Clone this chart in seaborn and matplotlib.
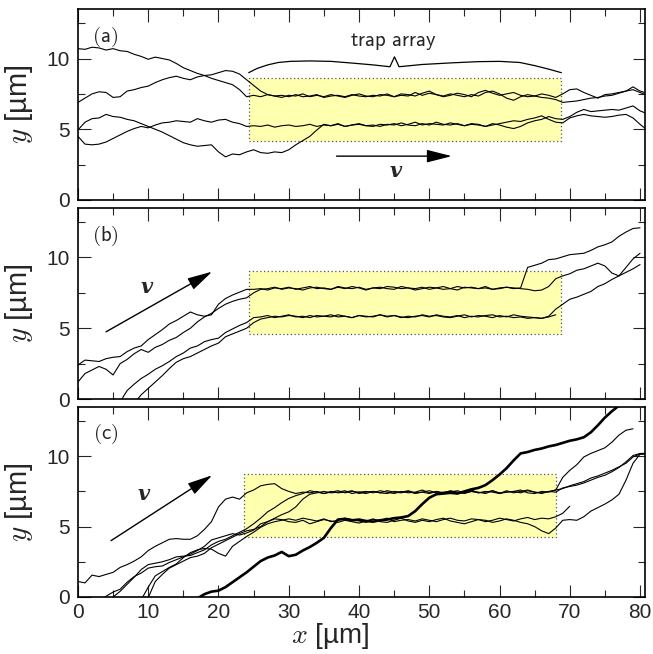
import numpy as np
import pandas as pd
import matplotlib
matplotlib.use("Agg")
import matplotlib.pyplot as plt
import seaborn as sns
from matplotlib.patches import Rectangle
from matplotlib.ticker import MultipleLocator

# ---- trajectories, y [um] sampled every 1 um in x, starting at x0 ----
# panel (a)
a1_x0 = 0
a1_y = [10.7, 10.65, 10.8, 10.75, 10.6, 10.7, 10.55, 10.5, 10.3, 10.15, 9.95, 10.1, 10.0,
        9.9, 9.65, 9.35, 9.15, 8.95, 8.8, 8.6, 8.45, 8.3, 8.15, 7.8, 7.3, 7.4,
        7.3, 7.45, 7.35, 7.25, 7.4, 7.35, 7.5, 7.3, 7.4, 7.3, 7.45, 7.35, 7.25, 7.4, 7.5,
        7.35, 7.3, 7.45, 7.4, 7.3, 7.5, 7.45, 7.35, 7.55, 7.7, 7.45, 7.35, 7.5, 7.4, 7.3,
        7.45, 7.35, 7.6, 7.7, 7.5, 7.2, 7.05, 7.3, 7.45, 7.35, 7.5, 7.4, 7.25,
        7.5, 7.8, 7.85, 7.6, 7.4, 7.2, 7.45, 7.5, 7.6, 7.7, 8.0, 7.7, 7.55]
a2_x0 = 0
a2_y = [6.9, 7.2, 7.5, 7.65, 7.6, 7.25, 7.3, 7.7, 7.8, 7.95, 8.05, 8.3, 8.5, 8.65, 8.75,
        8.6, 8.5, 8.7, 8.8, 8.85, 9.0, 9.15, 9.1, 8.9, 8.5, 8.1, 7.7, 7.45,
        7.35, 7.4, 7.3, 7.45, 7.3, 7.35, 7.45, 7.25, 7.35, 7.4, 7.3, 7.45, 7.35, 7.3, 7.4,
        7.35, 7.5, 7.3, 7.4, 7.35, 7.6, 7.4, 7.55, 7.45, 7.3, 7.4, 7.55, 7.45, 7.3, 7.6,
        7.75, 7.55, 7.4, 7.5, 7.6, 7.4, 7.3, 7.35, 7.25, 7.2, 7.1,
        6.9, 6.95, 7.0, 7.1, 7.2, 7.25, 7.35, 7.4, 7.55, 7.7, 7.8, 7.6, 7.4]
a3_x0 = 0
a3_y = [4.95, 5.5, 5.75, 5.8, 6.05, 5.9, 5.85, 5.7, 5.6, 5.4, 5.2, 5.0, 4.8, 4.55, 4.3,
        4.05, 3.9, 3.8, 3.85, 3.9, 3.4, 3.05, 3.25, 3.2, 3.4, 3.55, 3.35, 3.3, 3.4, 3.35,
        3.55, 3.9, 4.2, 4.5, 4.95, 5.35,
        5.25, 5.35, 5.2, 5.3, 5.4, 5.25, 5.3, 5.2, 5.35, 5.3, 5.45, 5.3, 5.25, 5.4, 5.3,
        5.5, 5.35, 5.3, 5.4, 5.25, 5.35, 5.3, 5.2, 5.4, 5.3, 5.15, 5.05, 5.2, 5.45, 5.6,
        5.7, 5.9, 5.75,
        5.7, 5.9, 6.2, 6.4, 6.25, 6.3, 6.35, 6.4, 6.35, 6.5, 6.65, 6.3, 6.1]
a4_x0 = 0
a4_y = [4.5, 3.95, 3.9, 3.95, 4.1, 4.35, 4.6, 4.85, 5.05, 5.2, 5.1, 5.3, 5.45, 5.5, 5.6,
        5.55, 5.5, 5.75, 5.6, 5.5, 5.65, 5.7, 5.5, 5.4, 5.2,
        5.25, 5.2, 5.3, 5.15, 5.25, 5.3, 5.2, 5.25, 5.35, 5.2, 5.3, 5.25, 5.4, 5.2, 5.3,
        5.35, 5.25, 5.2, 5.35, 5.3, 5.4, 5.25, 5.35, 5.5, 5.3, 5.4, 5.35, 5.3, 5.45, 5.35,
        5.25, 5.4, 5.35, 5.2, 5.3, 5.4, 5.5, 5.6, 5.55, 5.7, 5.8, 5.95, 5.7, 5.5,
        5.45, 5.8, 5.95, 6.05, 5.95, 5.9, 5.85, 5.9, 6.0, 6.05, 5.8, 5.35, 4.95]

# panel (b)
b1_x0 = 0
b1_y = [2.4, 2.75, 2.7, 2.65, 2.85, 2.95, 3.0, 3.35, 3.6, 3.75, 4.2, 4.55, 4.9, 5.3, 5.55,
        5.85, 6.15, 5.95, 5.85, 5.95, 6.7, 7.1, 7.35, 7.55, 7.75,
        7.75, 7.8, 7.7, 7.85, 7.8, 7.9, 7.75, 7.85, 7.95, 7.8, 7.85, 7.75, 7.9, 7.8, 7.95,
        7.85, 7.7, 7.85, 7.9, 7.8, 7.75, 7.95, 7.85, 7.8, 7.9, 7.75, 7.85, 7.95, 7.8, 7.7,
        7.9, 7.85, 7.8, 7.95, 7.75, 7.85, 7.9, 7.8, 7.85, 9.3,
        9.45, 9.6, 9.85, 9.9, 10.05, 10.2, 10.25, 10.3, 10.5, 10.75, 10.9, 11.1, 11.5,
        11.8, 12.05, 12.1]
b2_x0 = 0
b2_y = [1.2, 1.8, 2.05, 2.3, 2.1, 1.7, 2.5, 2.8, 3.2, 3.5, 3.3, 3.65, 3.85, 4.15, 4.35,
        4.7, 5.0, 5.45, 5.8, 6.05, 6.4, 6.7, 6.9, 7.05, 7.15, 7.5, 7.75,
        7.8, 7.9, 7.75, 7.85, 7.8, 7.7, 7.85, 7.9, 7.8, 7.75, 7.95, 7.85, 7.8, 7.9, 7.75,
        7.85, 7.8, 7.95, 7.9, 7.8, 7.85, 7.7, 7.8, 7.9, 7.85, 7.75, 7.8, 7.95, 7.85, 7.9,
        7.8, 7.85, 7.75, 7.8, 7.9, 7.85, 7.8, 7.75, 7.65, 7.7, 7.95, 8.5,
        8.7, 8.85, 9.1, 9.2, 9.4, 9.6, 9.4, 8.9, 8.7, 9.3, 9.9, 10.3]
b3_x0 = 6
b3_y = [-0.2, 0.6, 1.05, 1.45, 1.75, 2.1, 2.35, 2.65, 3.0, 3.25, 3.6, 3.75, 4.05, 4.2, 4.3,
        4.7, 4.95, 5.2, 5.4, 5.75,
        5.8, 5.9, 5.75, 5.85, 5.95, 5.8, 5.85, 5.75, 5.9, 5.85, 5.8, 5.95, 5.85, 5.75, 5.9,
        5.8, 5.85, 5.95, 5.8, 5.9, 5.75, 5.85, 5.8, 5.95, 5.85, 5.9, 5.8, 5.75, 5.85, 5.95,
        5.8, 5.9, 5.85, 5.75, 5.9, 5.8, 5.95, 5.85, 5.8, 5.75, 5.7, 5.85, 6.35,
        6.7, 7.05, 7.2, 7.4, 7.6, 7.95, 8.15, 8.45, 8.7, 8.95, 9.2, 9.5]
b4_x0 = 8
b4_y = [-0.3, 0.3, 0.75, 1.2, 1.65, 2.15, 2.6, 2.85, 3.0, 3.25, 3.5, 3.75, 3.95, 4.4, 4.6,
        4.8, 5.0, 5.4, 5.65,
        5.75, 5.85, 5.8, 5.9, 5.85, 5.75, 5.9, 5.8, 5.85, 5.95, 5.8, 5.85, 5.75, 5.9, 5.85,
        5.8, 5.95, 5.85, 5.9, 5.8, 5.75, 5.85, 5.9, 5.8, 5.95, 5.85, 5.8, 5.9, 5.75, 5.85,
        5.8, 5.9, 5.95, 5.8, 5.85, 5.75, 5.8, 5.7, 5.75, 5.7, 5.8, 5.95]

# panel (c)
c0_x0 = 17  # thick trajectory
c0_y = [-0.1, 0.2, 0.38, 0.45, 0.7, 1.05, 1.4, 1.75, 2.15, 2.55, 2.8, 2.95, 3.2, 2.9, 3.0,
        3.3, 3.55, 3.85, 4.2, 4.9, 5.5, 5.55, 5.45, 5.5, 5.4, 5.35, 5.45, 5.5, 5.6, 5.65,
        5.75, 6.1, 6.6, 7.05, 7.3, 7.35, 7.4, 7.35, 7.5, 7.65, 7.75, 7.95, 8.3, 8.7, 9.15,
        9.7, 10.2, 10.3, 10.45, 10.55, 10.7, 10.8, 10.95, 11.1, 11.2, 11.35, 11.7, 12.2,
        12.75, 13.2, 13.6]
c1_x0 = 0
c1_y = [1.1, 1.0, 1.55, 1.45, 1.6, 1.75, 2.1, 2.3, 2.55, 2.85, 3.3, 3.6, 3.85, 4.1, 4.15,
        4.1, 4.1, 4.35, 4.8, 5.35, 6.4, 6.95, 7.1, 6.95, 7.4, 7.6, 7.9, 8.0, 8.05, 7.7,
        7.5, 7.35, 7.45,
        7.4, 7.5, 7.35, 7.45, 7.55, 7.4, 7.5, 7.45, 7.35, 7.5, 7.4, 7.55, 7.45, 7.4, 7.5,
        7.35, 7.45, 7.55, 7.4, 7.45, 7.5, 7.35, 7.45, 7.6, 7.4, 7.5, 7.45, 7.35, 7.55, 7.4,
        7.5, 7.6, 7.45, 7.4, 7.5, 7.6,
        8.5, 9.0, 9.4, 9.95, 10.2, 10.4, 10.6, 11.0, 11.5, 11.85, 11.95]
c2_x0 = 3
c2_y = [-0.4, 0.05, 0.35, 0.55, 1.05, 1.45, 1.7, 2.05, 2.15, 2.2, 2.45, 2.65, 2.85, 3.05,
        3.3, 3.6, 4.05, 4.2, 4.35, 4.5, 4.4, 4.55, 4.75, 5.2, 5.35, 5.55,
        5.5, 5.35, 5.3, 5.45, 5.2, 5.35, 5.5, 5.4, 5.3, 5.45, 5.35, 5.25, 5.4, 5.55, 5.35,
        5.3, 5.45, 5.6, 5.4, 5.3, 5.45, 5.35, 5.5, 5.6, 5.4, 5.3, 5.2, 5.35, 5.5, 5.45,
        5.3, 5.4, 5.55, 5.45, 5.3, 5.2, 5.0, 4.7, 4.5,
        4.9, 5.45, 5.5, 5.45, 5.7, 6.1, 6.35, 6.6, 6.9, 7.3, 8.3, 9.5, 10.15, 10.2]
c3_x0 = 5
c3_y = [0.0, 0.4, 0.9, 1.4, 1.95, 2.3, 2.4, 2.5, 2.65, 2.85, 2.9, 2.95, 3.15, 3.35, 3.7,
        3.95, 4.1, 4.35, 4.6, 4.85, 5.2, 5.6, 6.05, 6.35, 6.7, 7.0, 7.2, 7.35, 7.55,
        7.45, 7.35, 7.5, 7.4, 7.45, 7.55, 7.35, 7.45, 7.5, 7.4, 7.35, 7.5, 7.45, 7.55, 7.4,
        7.45, 7.35, 7.5, 7.4, 7.55, 7.45, 7.35, 7.5, 7.4, 7.45, 7.55, 7.35, 7.45, 7.5, 7.4,
        7.55, 7.45, 7.35, 7.5, 7.45,
        7.75, 7.85, 7.95, 8.1, 8.3, 8.5, 8.65, 8.9, 9.2, 9.6, 10.05, 10.2, 10.2]
c4_x0 = 9
c4_y = [-0.2, 0.7, 1.5, 1.8, 2.1, 2.35, 2.8, 3.15, 3.35, 3.45, 3.4, 3.1, 2.9, 3.6, 3.95,
        4.3, 4.6, 4.95, 5.2, 5.35, 5.45, 5.55,
        5.45, 5.6, 5.5, 5.4, 5.55, 5.35, 5.45, 5.6, 5.5, 5.4, 5.3, 5.5, 5.45, 5.6, 5.35,
        5.45, 5.5, 5.4, 5.55, 5.45, 5.35, 5.5, 5.6, 5.45, 5.4, 5.55, 5.5, 5.35, 5.45, 5.6,
        5.5, 5.4, 5.55, 5.65, 5.5, 5.6, 5.55, 5.7,
        5.95, 6.45]
c5_x0 = 10
c5_y = [-0.05, 1.1, 1.6, 2.05, 2.3, 2.55, 2.8, 2.9, 3.1, 3.5, 3.75, 4.0, 4.25, 4.5, 4.7,
        4.8, 5.0, 5.35, 5.6, 5.85, 6.05, 6.4, 6.95, 7.3, 7.4,
        7.5, 7.4, 7.45, 7.55, 7.35, 7.45, 7.5, 7.4, 7.55, 7.45, 7.35, 7.5, 7.4, 7.45, 7.6,
        7.4, 7.5, 7.35, 7.45, 7.55, 7.4, 7.5, 7.45, 7.35, 7.55, 7.4, 7.45, 7.5, 7.6, 7.4,
        7.35, 7.5, 7.45, 7.6,
        7.7, 7.9, 8.05, 8.2, 8.45, 8.6, 8.8, 9.0, 9.25, 9.5, 9.95, 10.15, 10.15]

# trap-array regions (x0, x1, y0, y1)
trap_a = [24.3, 68.8, 4.2, 8.65]
trap_b = [24.3, 68.8, 4.6, 9.08]
trap_c = [23.6, 68.1, 4.26, 8.72]

# velocity arrows (start, end)
arrow_a = [(36.8, 3.1), (53.2, 3.1)]
arrow_b = [(4.0, 4.75), (19.1, 9.0)]
arrow_c = [(4.7, 4.0), (19.1, 8.65)]
v_pos = [(45.2, 2.05), (9.8, 7.95), (9.3, 7.3)]

# brace above the trap array in (a)
brace_x = [24.3, 25.5, 27, 28.5, 30.2, 33, 36, 39, 42, 44.4, 45.05, 45.7, 49, 53.4, 57,
           60, 62.9, 65, 67, 68.8]
brace_y = [9.0, 9.3, 9.55, 9.72, 9.8, 9.83, 9.8, 9.68, 9.55, 9.42, 10.12, 9.42, 9.58,
           9.7, 9.78, 9.8, 9.72, 9.5, 9.25, 9.0]


def frame(trajs):
    parts = []
    for i, (x0, ys) in enumerate(trajs):
        parts.append(pd.DataFrame({"x": x0 + np.arange(len(ys)), "y": ys, "traj": i}))
    return pd.concat(parts, ignore_index=True)


sns.set_style("ticks")
plt.rcParams["font.family"] = ["Liberation Sans", "DejaVu Sans"]
plt.rcParams["mathtext.fontset"] = "cm"

fig = plt.figure(figsize=(6.53, 6.54), dpi=100)
left, width = 0.1194, 0.8683
axes = [fig.add_axes([left, 0.6942, width, 0.2920]),
        fig.add_axes([left, 0.3899, width, 0.2921]),
        fig.add_axes([left, 0.0872, width, 0.2905])]

panels = [
    dict(thin=[(a1_x0, a1_y), (a2_x0, a2_y), (a3_x0, a3_y), (a4_x0, a4_y)], thick=None,
         trap=trap_a, arrow=arrow_a, label="(a)"),
    dict(thin=[(b1_x0, b1_y), (b2_x0, b2_y), (b3_x0, b3_y), (b4_x0, b4_y)], thick=None,
         trap=trap_b, arrow=arrow_b, label="(b)"),
    dict(thin=[(c1_x0, c1_y), (c2_x0, c2_y), (c3_x0, c3_y), (c4_x0, c4_y), (c5_x0, c5_y)],
         thick=(c0_x0, c0_y), trap=trap_c, arrow=arrow_c, label="(c)"),
]

for i, (ax, p) in enumerate(zip(axes, panels)):
    x0, x1, y0, y1 = p["trap"]
    ax.add_patch(Rectangle((x0, y0), x1 - x0, y1 - y0, facecolor="#ffffb0",
                           edgecolor="#555555", linestyle=(0, (1, 2)), lw=0.9, zorder=1))
    sns.lineplot(data=frame(p["thin"]), x="x", y="y", units="traj", estimator=None,
                 sort=False, color="black", lw=0.8, ax=ax, zorder=3)
    if p["thick"] is not None:
        sns.lineplot(data=frame([p["thick"]]), x="x", y="y", units="traj", estimator=None,
                     sort=False, color="black", lw=1.9, ax=ax, zorder=4)
    (sx, sy), (ex, ey) = p["arrow"]
    ax.annotate("", xy=(ex, ey), xytext=(sx, sy),
                arrowprops=dict(arrowstyle="-|>,head_length=1.1,head_width=0.28",
                                mutation_scale=14, color="black", lw=1.0,
                                shrinkA=0, shrinkB=0))
    ax.text(v_pos[i][0], v_pos[i][1], "v", family="DejaVu Serif", style="italic",
            weight="bold", fontsize=15, ha="center", va="center")
    ax.text(3.9, 11.55, r"$\mathsf{" + p["label"] + "}$", fontsize=15,
            ha="center", va="center")

    ax.set_xlim(0, 80.7)
    ax.set_ylim(0, 13.5)
    ax.xaxis.set_major_locator(MultipleLocator(10))
    ax.xaxis.set_minor_locator(MultipleLocator(5))
    ax.yaxis.set_major_locator(MultipleLocator(5))
    ax.yaxis.set_minor_locator(MultipleLocator(2.5))
    ax.tick_params(which="both", direction="in", top=True, right=True, width=0.8,
                   labelsize=15, pad=4)
    ax.tick_params(which="major", length=9)
    ax.tick_params(which="minor", length=5)
    ax.tick_params(axis="y", pad=6)
    for s in ax.spines.values():
        s.set_linewidth(1.2)
        s.set_color("black")
    ax.set_ylabel(r"$y$ [µm]", fontsize=21)
    ax.yaxis.set_label_coords(-0.075, 0.5)
    if i < 2:
        ax.set_xlabel("")
        ax.tick_params(axis="x", labelbottom=False)
    else:
        ax.set_xlabel(r"$x$ [µm]", fontsize=20)
        ax.xaxis.set_label_coords(0.445, -0.125)

axes[0].plot(brace_x, brace_y, color="black", lw=0.9)
axes[0].text(44.9, 10.87, r"$\mathsf{trap\ array}$", fontsize=15, ha="center",
             va="baseline")

fig.savefig("out.png", dpi=100)
